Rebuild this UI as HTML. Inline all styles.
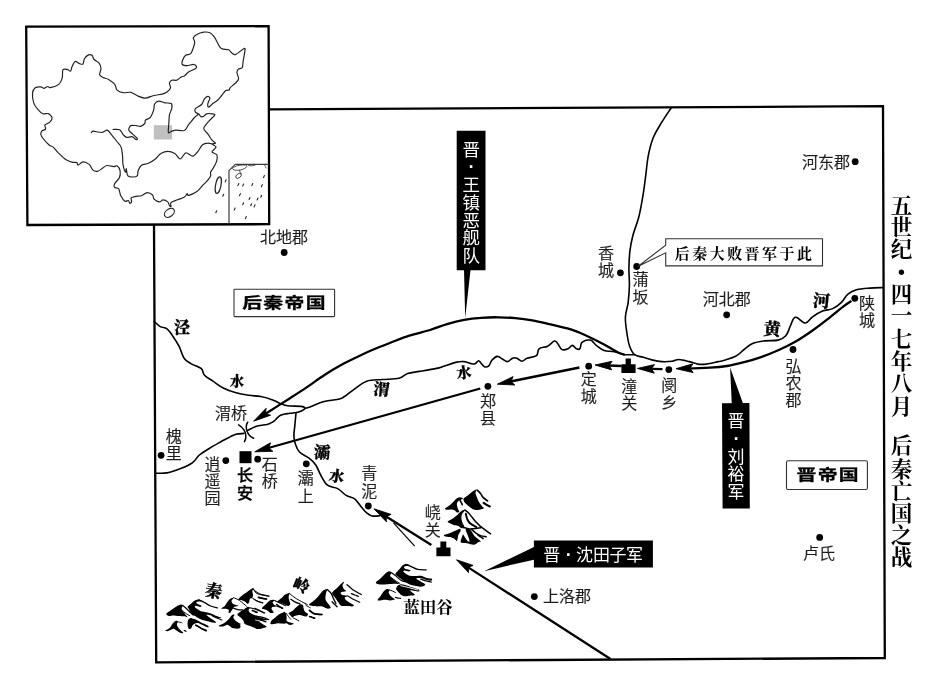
<!DOCTYPE html>
<html lang="zh-CN">
<head>
<meta charset="utf-8">
<title>五世纪·四一七年八月 后秦亡国之战</title>
<style>
html,body{margin:0;padding:0;background:#fff;}
body{width:939px;height:687px;overflow:hidden;}
svg{display:block;will-change:transform;}
.lb{font-family:"Liberation Sans","Noto Sans CJK SC",sans-serif;font-weight:350;fill:#1e1e1e;stroke:#1e1e1e;stroke-width:0.22px;text-anchor:middle;}
.lbb{font-family:"Liberation Sans","Noto Sans CJK SC",sans-serif;font-weight:500;fill:#000;stroke:#000;stroke-width:0.3px;text-anchor:middle;}
.rv{font-family:"Liberation Serif","Noto Serif CJK SC",serif;font-weight:900;fill:#000;stroke:#000;stroke-width:0.3px;text-anchor:middle;}
.tt{font-family:"Liberation Serif","Noto Serif CJK SC",serif;font-weight:700;fill:#000;text-anchor:middle;}
.wl{font-family:"Liberation Sans","Noto Sans CJK SC",sans-serif;font-weight:400;fill:#fff;text-anchor:middle;}
.emp{font-family:"Liberation Sans","Noto Sans CJK SC",sans-serif;font-weight:700;fill:#000;stroke:#000;stroke-width:0.3px;text-anchor:middle;}
.co{font-family:"Liberation Serif","Noto Serif CJK SC",serif;font-weight:700;fill:#000;text-anchor:middle;}
</style>
</head>
<body>
<svg width="939" height="687" viewBox="0 0 939 687">
<defs><filter id="soft" x="0" y="0" width="939" height="687" filterUnits="userSpaceOnUse"><feGaussianBlur stdDeviation="0.45"/></filter></defs>
<rect x="0" y="0" width="939" height="687" fill="#fff"/>
<g filter="url(#soft)">
<g id="frames" fill="none" stroke="#000" stroke-width="2.3" stroke-linejoin="miter">
<path d="M269 109.3L883 106.2L884.8 658L156.2 662.3L154 224"/>
<path d="M26.2 26.6L268.6 26.2L269.2 224.2L27.4 225Z"/>
</g>
<g id="china" fill="none" stroke="#242424" stroke-width="1.2" stroke-linejoin="round" stroke-linecap="round">
<rect x="153.8" y="125.2" width="18.3" height="14.3" fill="#c0c0c0" stroke="none"/>
<path d="M33.8 103.1C33 100.8 32.3 95.5 32.5 93.4C32.7 91.3 34 88.7 35.2 87.8C36.4 86.9 39.5 86.8 40.8 86.9C42.1 87 43.2 88.4 44.2 88.3C45.2 88.2 46.8 86.6 47.7 86.5C48.6 86.4 48.9 87.9 50.5 87.6C52.1 87.3 57.2 85.7 58.8 84.4C60.4 83.1 61.6 80.1 62.2 78.1C62.8 76.1 62.2 71 62.9 69.8C63.6 68.6 66 69.2 67.1 69.4C68.2 69.6 69.8 71.5 70.5 71.2C71.2 70.9 71.3 68.5 71.9 67.1C72.5 65.7 74 62 75.1 61.5C76.2 61 78.4 63.2 79.5 63.6C80.6 64 82.3 64.7 83 64C83.7 63.3 83.6 60.1 84.4 58.8C85.2 57.5 87.4 55.4 88.5 54.9C89.6 54.4 91.2 54.7 92 55.3C92.8 55.9 93.1 58.4 94.1 59.5C95.1 60.6 97.9 61.6 98.9 62.9C99.9 64.2 100.9 66.8 101 68.5C101.1 70.2 99.3 73.4 99.6 74.7C99.9 76 101.8 76.8 103.1 77.5C104.4 78.2 107 78.5 108.6 79.5C110.2 80.5 113.6 82.9 114.8 84.4C116 85.9 115.7 88.7 116.9 89.9C118.1 91.1 121.2 92.4 123.1 92.7C125 93 128.8 91.9 130.8 92.3C132.8 92.7 135.7 95.1 137.7 95.9C139.7 96.7 143 98.3 145.3 98.2C147.6 98.1 151.4 96.1 153.8 95.5C156.2 94.9 160.4 94.6 162.2 94.1C164 93.6 165.8 92.9 167 92C168.2 91.1 170.2 89.1 170.5 87.8C170.8 86.5 169.2 84.1 169.4 83C169.6 81.9 170.8 80.6 171.8 80.2C172.8 79.8 175.3 80.7 176.7 80.2C178.1 79.7 180.4 77.4 181.5 76.8C182.6 76.2 183.3 76.8 184.3 76.1C185.3 75.4 186.9 72.9 188.5 71.9C190.1 70.9 194.3 69.5 195.4 68.7C196.5 67.9 196.8 67 196.5 66.4C196.2 65.8 194.6 64.4 193.3 64.3C192 64.2 188.7 65.7 187.1 65.7C185.5 65.7 182.8 65.2 182.2 64.3C181.6 63.4 182.4 60.8 182.9 59.5C183.4 58.2 184.6 56.1 185.7 55.3C186.8 54.5 189.5 54.7 190.5 53.9C191.5 53.1 192 51.4 192.6 49.8C193.2 48.2 194.6 43.9 194.7 42.2C194.8 40.5 193 39.1 193.3 38C193.6 36.9 195.3 35.3 196.8 34.5C198.3 33.7 201.9 32.5 203.7 32.2C205.5 31.9 208.4 32.1 209.9 32.7C211.4 33.3 213 35.2 214.1 36.6C215.2 38 216.6 41.2 217.5 42.8C218.4 44.4 219.5 46.8 220.3 47.7C221.1 48.6 221.9 48.8 223.1 49.1C224.3 49.4 227.3 49.2 228.6 49.8C229.9 50.4 231.1 52.5 232.1 53.2C233.1 53.9 233.8 55.3 235.5 54.6C237.2 53.9 243.2 48.6 244.5 48.4C245.8 48.2 244.7 51.4 244.5 53.2C244.3 55 243.4 59.5 243.1 61.5C242.8 63.5 242.9 66.7 242.2 67.8C241.5 68.9 239 68.4 238.3 69.1C237.6 69.8 236.9 71.2 236.9 72.6C236.9 74 238.8 77.3 238.6 78.8C238.4 80.3 236.7 81.7 235.5 83C234.3 84.3 230.9 86.8 230 87.8C229.1 88.8 229.9 89.5 229.3 89.9C228.7 90.3 226.9 89.8 225.8 90.6C224.7 91.4 222.9 94.1 221.7 95.5C220.5 96.9 218.7 99.2 217.5 100.3C216.3 101.4 214.7 102.1 213.4 103.1C212.1 104.1 209.3 107.1 208.5 107.2C207.7 107.3 207.6 105.1 207.8 103.8C208 102.5 209.9 99.2 209.9 98.2C209.9 97.2 208.6 96.3 207.8 96.4C207 96.5 205.3 97.8 204.4 98.9C203.5 100 202.9 103.1 201.6 104.5C200.3 105.9 196.3 107.5 195.4 108.6C194.5 109.7 194.9 111.3 195.4 112.1C195.9 112.9 198 113.5 198.8 114.1C199.6 114.7 200.2 116.3 200.9 116.6C201.6 116.9 202.9 116.7 203.7 116.3C204.5 115.9 205.3 114.1 206.5 113.8C207.7 113.5 210.8 113.6 212 113.8C213.2 114 215.2 114 214.8 115C214.4 116 210.8 118.9 209.2 120.8C207.6 122.7 203.9 126.6 203.7 128.4C203.5 130.2 206.6 132.3 207.8 133.9C209 135.5 210.9 138.8 212 140.1C213.1 141.4 215.5 142.7 215.5 143.2C215.5 143.7 211.9 143.5 212 144C212.1 144.5 216.1 146 216.1 147.1C216.1 148.2 211.9 150.8 212 151.9C212.1 153 216.1 153.4 216.8 154.7C217.5 156 217.3 159.1 216.8 160.9C216.3 162.7 214.3 166.2 213.4 167.8C212.5 169.4 211 170.8 210.6 172C210.2 173.2 211.2 174.7 210.6 176.1C210 177.5 207.7 180.3 206.5 181.7C205.3 183.1 203.6 184.4 202.3 185.8C201 187.2 198.8 190.2 196.9 191.5C195 192.8 190 195.1 188.6 195.4C187.2 195.7 187.8 193.4 187.2 193.6C186.6 193.8 185.9 196.2 184.5 197.1C183.1 198 179.4 199 177.5 199.8C175.6 200.6 171.8 201.7 170.9 202.6C170 203.5 171.2 206.1 171 206.5C170.8 206.9 169.8 206.2 169.4 205.6C169 205 168.7 202.7 167.8 201.9C166.9 201.1 164.2 199.8 163 199.8C161.8 199.8 160.8 202 159.5 201.9C158.2 201.8 155 200.1 154 199.1C153 198.1 153.6 195.9 152.6 195C151.6 194.1 148.7 192.5 147.1 192.6C145.5 192.7 143.1 195.2 141.5 195.7C139.9 196.2 137.4 196.1 136 196.4C134.6 196.7 131.8 197 131.2 197.8C130.6 198.6 131.8 201.1 131.6 201.9C131.4 202.7 130.2 203.5 129.8 203.3C129.4 203.1 129.1 200.8 128.4 200.5C127.7 200.2 126 201.9 124.9 201.2C123.8 200.5 121.7 197.4 120.8 195.7C119.9 194 119.6 190 118.7 188.8C117.8 187.6 115.1 188.1 114.5 187.4C113.9 186.7 113.8 185.3 114.5 183.9C115.2 182.5 118.6 179.5 119.4 177.7C120.2 175.9 120.4 172.5 120.1 170.8C119.8 169.1 118.2 166.5 117.3 165.9C116.4 165.3 115.3 166.7 113.8 166.6C112.3 166.5 108.4 165.3 106.9 165.5C105.4 165.7 104.4 167 103.1 167.8C101.8 168.6 99 171 97.5 171.3C96 171.6 93.9 170.9 92.7 169.9C91.5 168.9 90.6 165.5 89.2 164.4C87.8 163.3 84.6 161.8 83 161.9C81.4 162 79 165 78.1 165.1C77.2 165.2 77.6 163 76.8 162.6C76 162.2 74.2 162.7 72.6 162.3C71 161.9 67.7 160.9 65.7 159.5C63.7 158.1 59.9 154.3 58.1 152.6C56.4 150.9 54.5 148.2 53.2 147.1C51.9 146 50.7 146.5 49.1 145C47.5 143.5 42.6 138.2 41.5 136.3C40.4 134.4 40.9 132.2 41.5 131.2C42.1 130.2 45.1 130 45.6 129.1C46.1 128.2 44.3 125.9 44.9 124.9C45.5 123.9 48.8 123.2 49.8 122.2C50.8 121.2 52.3 118.9 52.1 117.7C51.9 116.5 49.7 114.1 48.4 113.6C47.1 113.1 44.3 114.3 42.8 113.8C41.3 113.3 39.3 111.2 38 109.7C36.7 108.2 34.6 105.4 33.8 103.1Z"/>
<path d="M113 129.5C114 129.5 118.2 129 119.7 129.8C121.2 130.6 122.1 133.5 123.1 134.6C124.1 135.7 125.2 137.1 126.6 137.4C127.9 137.7 130.6 136.4 132.1 136.7C133.6 137 135.6 139.5 136.3 139.7C137 139.9 137.8 139.2 137 138.1C136.2 137 132 133.7 130.8 132.5C129.6 131.3 128.7 130.8 128.7 129.8C128.7 128.8 129.7 126.2 130.8 125.6C131.9 125 134.9 125.5 136.3 125.6C137.7 125.7 139.1 126.6 140.4 126.3C141.7 126 144 124.4 144.8 123.5C145.6 122.6 144.7 121 145.5 120.1C146.3 119.2 149.2 118.9 150.4 117.3C151.6 115.7 153.2 111.7 153.8 109.7C154.4 107.7 153.8 105.5 154.5 104.2C155.2 102.9 157.1 101.3 158.7 101.1C160.3 100.9 163 102.4 164.9 102.8C166.8 103.2 170.2 102.7 171.2 103.5C172.2 104.3 172.1 106.5 171.8 108.3C171.5 110.1 169.8 112.9 169.4 115.2C169 117.5 169 120.9 168.8 123.5C168.7 126.1 168 131.3 168.4 132.5C168.8 133.7 170.7 131.5 171.8 131.2C172.9 130.9 174.1 130.3 176 130.2C177.9 130.1 182.4 131.3 184.3 130.5C186.2 129.7 187 126.8 188.5 124.9C190 123 192.6 119.6 194 118C195.4 116.4 197.5 115 198.1 114.5"/>
<path d="M91.3 132.5C91.6 132.3 91.8 131.2 93.4 131.2C95 131.2 99.6 132.7 101.7 132.5C103.8 132.3 105.7 129.9 107.2 130.2C108.7 130.5 109.9 132.9 111.4 134.6C112.9 136.3 115.4 139.6 116.9 141.5C118.4 143.4 120.3 145 121.1 147.1C121.9 149.2 122.2 152.7 122.5 155.4C122.8 158.1 122.6 162.6 123.1 165.1C123.6 167.6 125.1 171.7 125.6 172.2C126.1 172.7 126 168.2 126.3 168.7C126.6 169.2 126.7 174.4 127.7 175.6C128.7 176.8 131.7 177 133.2 177C134.7 177 136.7 176.5 137.4 175.6C138.1 174.7 137.5 172.4 138.1 170.8C138.7 169.2 139.9 166.3 141.5 165.2C143.1 164.1 146.4 164.1 148.5 163.2C150.6 162.3 153.5 160.5 155.4 159C157.3 157.5 159 154.6 160.9 153.5C162.8 152.4 165.7 151.4 167.8 151.4C169.9 151.4 172.9 152.4 174.8 153.5C176.7 154.6 178.7 159.1 180.3 159C182 158.9 183.9 153.2 185.8 152.8C187.7 152.4 191 156.4 192.8 156.2C194.6 156 196.7 152.9 198.1 151.2C199.5 149.5 200.8 146.2 202.3 145C203.8 143.8 206.3 143.3 207.8 143.2C209.3 143 211.4 143.9 212 144"/>
<ellipse cx="169.4" cy="212.8" rx="5.6" ry="3.7" transform="rotate(-38 169.4 212.8)"/>
<ellipse cx="218.3" cy="185.2" rx="2.7" ry="8.4" transform="rotate(11 218.3 185.2)"/>
<path d="M229 224L229 170.6L235.2 164.3L268.5 164.3" stroke="#3a3a3a" stroke-width="1.2"/>
<path d="M232.5 168.5C235 165.5 240 164.8 246 165C248 166 246.5 168 243 169.2C239.5 170.5 236 170.8 233.2 169.6M239.7 170.4L240.3 173" stroke-width="0.8"/>
<path d="M248.5 165.3C251 166.4 253.5 165.8 255.8 164.6M264.3 164.8C265.3 166 265.6 167 266 168" stroke-width="0.8"/>
<ellipse cx="238.6" cy="175.8" rx="3.2" ry="2" transform="rotate(-38 238.6 175.8)" stroke-width="0.8"/>
</g>
<g id="isles" stroke="#222" stroke-width="1.1" stroke-linecap="round">
<path d="M263.5 177.6l0.9 -2.1"/>
<path d="M237.9 185.6l0.9 -2.1"/>
<path d="M242.7 186.1l0.9 -2.1"/>
<path d="M251.8 185.6l0.9 -2.1"/>
<path d="M261.4 186.7l0.9 -2.1"/>
<path d="M239.5 195.7l0.9 -2.1"/>
<path d="M249.1 199.5l0.9 -2.1"/>
<path d="M260.8 197.3l0.9 -2.1"/>
<path d="M257.1 200l0.9 -2.1"/>
<path d="M242.7 204.8l0.9 -2.1"/>
<path d="M250.7 205.8l0.9 -2.1"/>
<path d="M254.1 206.9l0.9 -2.1"/>
<path d="M234.2 210.1l0.9 -2.1"/>
<path d="M245.4 218.6l0.9 -2.1"/>
<path d="M225.2 181.9l0.9 -2.1"/>
<path d="M222.8 196.3l0.9 -2.1"/>
<path d="M215.8 212.8l0.9 -2.1"/>
</g>
<g id="rivers" fill="none" stroke="#000" stroke-width="1.6" stroke-linejoin="round" stroke-linecap="round">
<path d="M154.3 321.5C155.4 322.4 157.9 325.3 160.2 326.6C162.5 327.9 164.8 327.2 167 328.8C169.2 330.4 170 332 172.2 335.2C174.4 338.4 176.8 342 179 346.2C181.2 350.4 181.9 355 184.1 358.2C186.3 361.4 187.8 361.7 190.9 363.6C194 365.5 198.6 366.3 201.1 368.4C203.6 370.5 202.3 372.9 204.5 375.2C206.7 377.5 209.6 378.9 213 381.2C216.4 383.5 219.2 385.9 223.3 388C227.4 390.1 230.5 391.3 235.2 392.6C239.9 393.9 244.1 394.6 248.8 395.3C253.5 396 256.4 395.7 260.8 396.5C265.2 397.3 269 398.5 272.7 399.9C276.4 401.3 279.6 403.4 281.2 404.2"/>
<path d="M155.5 473.2C157.6 473.1 162.4 473.7 167 472.9C171.6 472.1 176 470.5 180.7 468.6C185.4 466.7 189.2 465.1 192.6 462.6C196 460.1 196.3 457.6 199.4 455C202.5 452.4 205.5 450.7 209.6 448.2C213.7 445.7 217.9 443.4 221.6 441.3C225.3 439.2 227.4 438.2 230 436.9C232.6 435.6 233.5 434.9 236 434.3C238.5 433.7 242.5 433.6 243.9 433.4"/>
<path d="M247.4 430.6C248.2 430.2 250 429.1 252 428.2C254 427.3 255.6 426.5 258.3 425.8C261 425.1 264.6 425 266.9 424.5C269.2 424 269.6 423.6 271 422.9C272.4 422.2 273.4 421.6 274.6 420.6C275.8 419.6 276.4 418.6 277.5 417.6C278.6 416.6 279.2 416 280.6 415.3C282 414.6 283.3 414.4 285 414C286.7 413.6 287.6 413.7 290.1 413.3C292.6 412.9 296.2 412.7 298.7 412C301.2 411.3 302.7 410.4 303.8 409.6C304.9 408.8 305.4 408.4 304.9 407.8C304.4 407.2 303.9 406.7 301.2 406.4C298.5 406.1 293.1 406.2 290.1 406C287.1 405.8 286.5 405.6 284.9 405.2C283.3 404.8 281.9 403.9 281.2 403.6"/>
<path d="M304.6 408.4C305.6 408.1 306.4 408.1 310 406.9C313.6 405.7 318.7 403 324.1 401.6C329.5 400.2 335.7 399.9 339.4 399C343.1 398.1 341.7 398.4 344.5 396.5C347.3 394.6 350.6 391.6 354.7 388.8C358.8 386 361.7 382.9 366.7 381.2C371.7 379.5 376.1 380 382 379.5C387.9 379 394.3 379.4 399 378.3C403.7 377.2 403.8 374.8 407.6 373.5C411.4 372.2 414.2 372.3 419.5 371.4C424.8 370.5 432.1 369.3 436.5 368.4C440.9 367.5 440.1 367.4 443.6 366.3C447.1 365.2 451.8 363.3 455.6 362.4C459.4 361.5 461.3 361.4 464.1 361.6C466.9 361.8 468.9 363.2 470.9 363.6C472.9 364 473.6 364.3 475 363.8C476.4 363.3 477.5 360.8 478.6 360.7C479.7 360.6 480 362.2 481.1 363.3C482.2 364.4 483.1 366.2 484.5 366.7C485.9 367.2 487.4 367 488.8 365.8C490.2 364.6 490.6 361.6 492.2 359.9C493.8 358.2 495.4 356.6 497.3 356.4C499.2 356.2 500.5 358 502.4 359C504.3 360 505.6 361.7 507.5 361.6C509.4 361.5 510.9 358.8 512.6 358.2C514.3 357.6 515.2 357.6 516.9 358.2C518.6 358.8 520.1 361.2 522 361.2C523.9 361.2 524.4 359.2 527.1 358.2C529.8 357.2 534.3 357.3 536.5 355.6C538.7 353.9 537 350.5 539 348.8C541 347.1 544.8 347.6 547.6 346.2C550.4 344.8 552.5 341.6 554.4 341.1C556.3 340.6 556.4 342.1 557.8 343.7C559.2 345.3 560.1 348.7 562 349.6C563.9 350.5 566.1 349.6 568 348.8C569.9 348 570.7 345.4 572.3 345.4C573.9 345.4 575.1 348.2 576.5 348.8C577.9 349.4 579 349.9 579.9 348.8C580.8 347.7 580.5 344.4 581.6 342.8C582.7 341.2 584.4 340.8 585.9 340.3C587.4 339.8 588.8 339.9 590 340C591.2 340.1 590.9 340 592.2 341.1C593.5 342.2 595.1 344.5 597.3 346.2C599.5 347.9 601 349.5 604.1 350.5C607.2 351.5 610.6 350.9 614.3 351.7C618 352.5 622.6 354.1 624.5 354.7"/>
<path d="M296 413C295.8 415.3 295.2 421.6 294.8 425.8C294.4 430 293.8 432.8 293.9 436C294 439.2 294.2 440.6 295.2 443.5C296.2 446.4 297 449.4 299.5 452C302 454.6 305.7 455.6 308.7 457.9C311.7 460.2 313.4 461.6 315.6 464.7C317.8 467.8 318.5 471.2 320.7 475C322.9 478.8 324.4 482.7 327.5 485.2C330.6 487.7 334.3 486.7 337.7 488.6C341.1 490.5 343.1 493.5 346.2 495.4C349.3 497.3 351.9 496.6 354.7 498.8C357.5 501 359.3 504.7 361.6 507.3C363.9 509.9 365.1 511.6 367 513.2C368.9 514.8 369.8 515.5 372.1 516C374.4 516.5 378.4 515.8 379.8 515.7"/>
<path d="M671.2 107.7C669.5 110.4 665.1 116.7 661.8 122.2C658.5 127.7 655.8 131.3 653.3 137.5C650.8 143.7 649.6 149 648.2 156.2C646.8 163.4 646.6 169.5 645.6 176.7C644.6 183.9 644.2 188 643 195.4C641.8 202.8 640.7 209.6 638.8 217C636.9 224.4 634.4 229.5 632.8 235.8C631.2 242.1 630.6 245.2 629.9 251.1C629.2 257 629 261.9 628.9 268.2C628.8 274.5 629.5 279 629.4 285.2C629.3 291.4 628.9 296.3 628.2 302.2C627.5 308.1 625.6 311.4 625.4 317.3C625.2 323.2 626.3 329 627.1 334.3C627.9 339.6 628.2 342.5 629.6 346.2C631 349.9 632.2 352.7 634.7 354.7C637.2 356.7 640.2 356.3 643.3 357.3C646.4 358.3 648.4 359.1 651.8 359.9C655.2 360.7 658.3 361.4 662 361.6C665.7 361.8 669.1 361.6 672.2 361.2C675.3 360.8 675.9 359.4 679 359.5C682.1 359.6 685.9 360.8 689.3 361.6C692.7 362.4 694.7 363.6 697.8 364.1C700.9 364.6 702.6 364.6 706.3 364.1C710 363.6 715 362.3 718.2 361.6C721.4 360.9 720.4 361.5 723.6 360.5C726.8 359.5 731.8 358.3 735.6 356.3C739.4 354.3 741 351.8 744.1 349.5C747.2 347.2 748.9 345.1 752.6 343.5C756.3 341.9 759.8 341.5 764.5 340.9C769.2 340.3 774.3 341 778.2 340.1C782.1 339.2 783.6 338.3 785.8 335.8C788 333.3 788.7 329.6 790.1 326.5C791.5 323.4 792.3 320.4 793.5 318.8C794.7 317.2 794.7 316.8 796.9 317.6C799.1 318.4 802.6 323.1 805.4 323C808.2 322.9 809.1 319.3 812.2 317.1C815.3 314.9 818.7 312.7 822.5 311.1C826.3 309.5 829.3 310.2 832.7 308.6C836.1 307 838.4 305.3 841.2 302.6C844 299.9 845.2 296.4 848 294.1C850.8 291.8 852.5 290.9 856.5 289.8C860.5 288.7 865 288.5 870 288.1C875 287.7 881 287.7 883.5 287.6"/>
<path d="M624.5 354.7L634.7 354.7"/>
<path d="M238.6 424.9C242.6 427.4 245.2 430.5 245.8 435C246.1 437.6 245.6 439.8 244.5 441.7M247.7 422.2C246 424.6 245.8 427.4 247 431C248.2 434.6 250.3 437 253.7 438.3" stroke-width="1.5"/>
</g>
<g id="routes" fill="none" stroke="#000" stroke-width="2.3" stroke-linecap="butt">
<path d="M624.5 354.7C623.4 354.3 621.1 353.9 617.7 352.2C614.3 350.5 609.2 347.2 604.1 344.5C599 341.8 592.7 338.6 587 336C581.3 333.4 576.3 331.2 570 329.2C563.7 327.2 555.6 325.6 549.3 324.1C543 322.6 537.9 321.3 532.2 320.3C526.5 319.3 520.9 318.6 515.2 318.1C509.5 317.6 503.9 317.4 498.2 317.3C492.5 317.2 486.8 317.4 481.1 317.8C475.4 318.2 469.8 318.8 464.1 319.8C458.4 320.9 452.7 322.4 447 324.1C441.3 325.8 436.3 328.1 430 330C423.7 331.9 415.6 333.7 409.3 335.7C403 337.7 397.9 339.8 392.2 342C386.5 344.2 380.9 346.4 375.2 348.8C369.5 351.2 363.9 353.8 358.2 356.5C352.5 359.2 346.8 361.9 341.1 365C335.4 368.1 329.8 371.5 324.1 375.2C318.4 378.9 312.7 383.3 307 387.1C301.3 390.9 296.8 393.8 290 398.2C283.2 402.6 270 410.9 266 413.5"/>
<path d="M851.4 300.9C850 301.9 846.6 304.1 842.9 306.9C839.2 309.7 834.4 313.9 829.3 317.9C824.2 321.9 817.9 326.7 812.2 330.7C806.5 334.7 800.9 338.5 795.2 341.8C789.5 345.1 783.9 347.8 778.2 350.3C772.5 352.9 766.8 355.1 761.1 357.1C755.4 359.1 749.8 360.7 744.1 362.2C738.4 363.7 732.7 365.1 727 366C721.3 366.9 716.8 367.3 710 367.7C703.2 368.1 690 368.5 686 368.6"/>
<path d="M662.5 369.1L650.9 368.8"/>
<path d="M621.6 366L608.5 365.5"/>
<path d="M579.4 367.5L510.5 381.5"/>
<path d="M480.3 388.5L268.3 448"/>
<path d="M431.4 545L385.7 516.3"/>
<path d="M610.5 659L467.8 567.1"/>
<path d="M414.7 546.2L393.5 522.8" stroke-width="1.2"/>
</g>
<g id="heads" fill="#000" stroke="#000" stroke-width="0.9" stroke-linejoin="round">
<path d="M253.6 421.2L266.1 408.3L265.4 413.7L270.6 415.2Z"/>
<path d="M676 368.7L692.9 363.8L690 368.3L693.1 372.6Z"/>
<path d="M637.4 368.4L654.5 364.6L651.4 368.8L654.3 373.2Z"/>
<path d="M595 365L612.1 361.3L609 365.5L611.8 369.9Z"/>
<path d="M497.3 384.2L513.1 376.6L511 381.4L514.8 385Z"/>
<path d="M254.8 451.8L270.5 442.8L268.8 447.9L272.8 451.3Z"/>
<path d="M373.9 508.8L391.1 514.4L386.2 516.5L386.4 521.8Z"/>
<path d="M456.5 559.8L473.1 565.4L468.3 567.4L468.5 572.6Z"/>
</g>
<g id="towns" fill="#000">
<circle cx="284.2" cy="252.5" r="3.4"/>
<circle cx="161.1" cy="455.3" r="3.4"/>
<circle cx="225.8" cy="460.6" r="3.4"/>
<circle cx="257.7" cy="459.2" r="3.4"/>
<circle cx="306.3" cy="463.8" r="3.4"/>
<circle cx="368.3" cy="506" r="3.4"/>
<circle cx="487.9" cy="386.3" r="3.4"/>
<circle cx="588.7" cy="366.2" r="3.4"/>
<circle cx="668.8" cy="369.6" r="3.4"/>
<circle cx="620.4" cy="272.8" r="3.4"/>
<circle cx="636.7" cy="266.5" r="3.4"/>
<circle cx="726.7" cy="314.8" r="3.4"/>
<circle cx="855.2" cy="161.7" r="3.4"/>
<circle cx="854.8" cy="298.3" r="3.4"/>
<circle cx="793" cy="349.5" r="3.4"/>
<circle cx="819.7" cy="537.4" r="3.4"/>
<circle cx="534.3" cy="596.6" r="3.4"/>
<rect x="239.5" y="451.2" width="12" height="12"/>
<path d="M621.4 364.2H625.6V358.4H630.9V364.2H635.6V373H621.4Z"/>
<path d="M436.4 547.6H440.4V541.6H446.3V547.6H450.5V556.2H436.4Z"/>
</g>
<g id="tags" fill="#000">
<path d="M456.7 130.8H485.5V270.2H456.7Z"/>
<path d="M464 269L470.6 269L465.2 318Z"/>
<path d="M722 403.2L749.4 403L749.8 508.4L722.6 508.6Z"/>
<path d="M731.8 404L743.2 404L730.1 367.6Z"/>
<path d="M533.9 540.6H652.9V567.6H533.9Z"/>
<path d="M535 546.4L535 559.4L484.1 571.2Z"/>
</g>
<g id="boxes" fill="#fff" stroke="#333" stroke-width="1.1">
<rect x="234" y="289.2" width="100.6" height="27.4" rx="0.8"/>
<rect x="786.5" y="460.8" width="80.9" height="28.7" rx="1.5"/>
<path d="M665.7 238.8H822.5V265.9H665.7V252.8L637.9 266.5L665.7 245.2Z"/>
</g>
<g id="mountains" fill="#000" stroke="none">
<path d="M166.3 613.9C166.6 613.1 169.8 611.1 171.2 610.1C172.5 609.1 175.1 607.2 176.4 606.4C177.7 605.7 180 604.6 180.9 604.5C181.7 604.5 182.6 605.2 182.7 605.8C182.8 606.4 181.4 608 181.6 609C181.9 610 183.8 612.4 184.6 613.5C185.4 614.6 187.7 617.1 187.7 617.4C187.7 617.8 185.8 616.4 184.6 616.2C183.4 616.1 180.1 616.2 178.6 616.1C177.2 616 174.7 615.4 173.4 615.4C172.1 615.3 169.9 616.1 168.9 615.9C168 615.7 166 614.6 166.3 613.9Z"/>
<path d="M187.6 606.8C188.1 606.1 191 603.6 192.1 602.7C193.2 601.8 194.9 600.5 195.8 600.1C196.7 599.6 198 599.4 198.8 599.5C199.6 599.7 202.1 600.9 201.8 601.2C201.5 601.5 197.1 601.4 196.5 601.8C195.9 602.1 196.6 603.3 197.3 603.8C197.9 604.3 201 605.3 201.4 605.7C201.8 606.1 201 606.8 200.3 606.9C199.5 606.9 196.5 605.7 195.8 605.8C195.1 605.9 194.5 606.6 195 607.3C195.6 608 198.6 610.2 200.3 610.9C202 611.6 206.1 612 207.7 612.4C209.3 612.8 211 613.4 212.2 613.9C213.4 614.4 215.5 615.6 216.7 616.1C217.9 616.6 221.2 617.5 221.3 617.7C221.4 618 218.6 618.1 217.4 617.9C216.2 617.6 213.4 616.3 212.2 615.9C211 615.5 209.2 614.9 208.5 614.8C207.7 614.7 206.1 614.7 206.4 615.1C206.7 615.6 209.4 617.4 210.7 618.3C212 619.3 215.9 621.6 216.1 622.2C216.3 622.8 213.3 622.7 212.2 622.6C211.1 622.5 209.1 621.7 207.7 621.3C206.3 621 203.2 620.3 201.8 619.8C200.4 619.3 198.5 618.3 197.3 617.6C196.1 616.9 193.8 615.5 192.8 614.6C191.8 613.7 190.4 611.8 189.8 610.9C189.2 610 188.6 608.4 188.3 607.9C188 607.4 187.1 607.5 187.6 606.8Z"/>
<path d="M165.2 630.6C165.5 630.2 168.7 629 169.7 628C170.7 627.1 171.9 624.5 172.7 623.6C173.5 622.6 175.1 621 175.8 620.8C176.5 620.5 177.9 621.3 178 621.7C178.2 622.1 176.9 623.2 176.9 623.9C176.8 624.7 177.4 626.4 177.9 627.3C178.4 628.2 180.2 629.9 180.9 630.6C181.6 631.4 183.3 632.6 183.3 633C183.3 633.3 181.7 633.4 180.9 633.1C180.1 632.8 178 631.6 177.2 631C176.3 630.5 175 629.1 174.2 628.9C173.4 628.7 172.1 629.4 171.2 629.7C170.3 630 168.3 631 167.5 631.2C166.7 631.3 164.9 631.1 165.2 630.6Z"/>
<path d="M188 627.3C187.7 626.4 187.5 623.8 187.6 622.8C187.6 621.8 187.9 620.5 188.3 619.8C188.7 619.2 189.9 618.1 190.6 618C191.3 617.9 192.7 618.6 193.6 619.1C194.5 619.5 196.4 620.8 197.3 621.3C198.2 621.8 200.5 622.5 200.3 622.8C200.1 623.1 196.8 623 195.8 623.3C194.8 623.6 193.4 624.4 192.8 625C192.2 625.7 191.8 627.5 191.3 628C190.9 628.6 189.9 629.2 189.5 629.1C189 629.1 188.2 628.1 188 627.3Z"/>
<path d="M221 608.7C221 608.4 223.8 607 224.7 606.1C225.6 605.2 226.9 602.6 227.7 601.6C228.5 600.6 229.8 599.2 230.7 598.6C231.5 598.1 233.7 597.5 233.8 597.7C233.9 598 231.8 599.9 231.6 600.5C231.3 601.1 231.5 601.8 231.9 602.4C232.2 602.9 233.5 604.2 234.4 604.6C235.2 605.1 238.3 605.4 238.3 605.7C238.3 606 235.2 606.3 234.4 606.8C233.6 607.4 232.7 609 232.2 609.8C231.6 610.6 230.4 612.6 229.9 613C229.4 613.3 228.6 612.9 228.4 612.5C228.3 612.1 229.3 610.3 228.8 609.8C228.3 609.3 225.7 608.9 224.7 608.8C223.7 608.6 221 609.1 221 608.7Z"/>
<path d="M238.1 599.4C238.3 598.7 241.4 595.9 242.6 594.9C243.8 593.9 246 592.7 247.1 591.9C248.2 591.2 250 589.8 250.8 589.3C251.6 588.9 253 588.2 253.2 588.4C253.4 588.7 252.3 590.3 252.3 591.2C252.3 592.1 253 594 253 594.9C253 595.8 252.7 597.4 252.3 597.9C251.9 598.4 250.4 598.1 250 598.6C249.7 599.1 249.6 600.9 249.3 601.6C249 602.3 248.4 604 247.8 604C247.2 604 245.7 602.1 244.8 601.6C243.9 601.1 242 600.4 241.1 600.1C240.2 599.8 237.9 600.1 238.1 599.4Z"/>
<path d="M218.7 625.9C218.8 625.4 222.7 624.1 223.9 623.3C225.2 622.4 227.3 620.6 228.4 619.5C229.5 618.4 231.3 615.7 232.2 615C233 614.4 234.4 614.4 234.5 614.7C234.7 615 233.3 616.5 233.3 617.3C233.4 618 234.4 619.5 235.1 620.3C235.9 621.1 238.1 622.5 238.9 623.3C239.6 624 240.4 625.6 240.5 626.2C240.6 626.9 240.2 627.9 239.6 628.2C239 628.5 237 628.7 235.9 628.6C234.8 628.5 232.5 627.9 231.4 627.4C230.3 626.9 228.8 624.9 227.7 624.7C226.6 624.6 224.4 626.2 223.2 626.4C222 626.5 218.6 626.3 218.7 625.9Z"/>
<path d="M237.4 614.3C237.8 613.3 241.9 610.8 243.3 609.8C244.7 608.8 246.9 607.1 247.8 606.8C248.7 606.6 250.1 607.6 250.2 608C250.3 608.4 248.6 609.2 248.6 609.8C248.5 610.5 249.3 612.1 250 612.8C250.8 613.5 253.2 614.6 254.5 615C255.8 615.5 259.6 616.1 259.9 616.5C260.2 616.9 257.4 617.5 256.8 618C256.1 618.5 255.2 619.6 255.3 620.3C255.4 620.9 256.5 622.2 257.5 622.9C258.5 623.5 261.5 624.6 262.7 625.1C263.9 625.6 266.6 626.2 266.6 626.6C266.6 627 263.8 627.9 262.7 628.2C261.6 628.5 259.8 629.3 258.3 629C256.7 628.7 252.6 626.9 250.8 626.2C249 625.6 245.8 624.7 244.8 624C243.8 623.3 243.9 621.5 243.3 620.6C242.7 619.7 241.1 618.1 240.4 617.3C239.6 616.4 237 615.3 237.4 614.3Z"/>
<path d="M262 608.3C262.4 607.5 265.9 604.2 267.2 603.1C268.5 602 270.7 600.5 271.7 600.1C272.7 599.8 274.7 600.1 274.8 600.4C274.9 600.7 272.5 601.7 272.4 602.4C272.3 603 274.1 604.6 273.9 605.4C273.7 606.1 271 607.4 270.9 608.3C270.8 609.3 273.4 611.6 273.3 612.2C273.2 612.8 271 613.3 270.2 613C269.4 612.6 268 610.3 267.2 609.8C266.4 609.3 264.9 609.4 264.2 609.2C263.5 609 261.6 609.2 262 608.3Z"/>
<path d="M270.9 624C270.3 623.7 270.9 621.9 271.7 621C272.5 620.1 275.7 618.2 276.9 617.3C278.1 616.4 279.5 614.9 280.6 614.3C281.8 613.7 284.7 612.3 285.5 612.7C286.3 613.1 286.5 616 286.6 617.3C286.6 618.6 286.6 621.8 285.8 622.7C285 623.5 281.9 623.4 280.6 623.4C279.3 623.5 277.4 622.9 276.1 623C274.9 623.1 271.5 624.3 270.9 624Z"/>
<path d="M255 616.2C255.6 614.8 258 616.6 259.5 617C261 617.5 265 618.9 266.2 619.3C267.4 619.7 269.1 619.9 268.6 620.1C268.1 620.3 263.7 620.3 262.5 620.5C261.2 620.7 259 620.8 259.5 621.7C260 622.5 265.9 625.9 266.3 626.7C266.7 627.5 263.6 627.3 262.5 627.6C261.3 628 259 629.2 258 629.1C257 629.1 255.4 628.8 255 627.1C254.6 625.4 254.4 617.5 255 616.2Z"/>
<path d="M262.1 608.1C262.1 607.4 265.1 605.4 266.2 604.4C267.2 603.4 268.9 601.3 269.9 600.6C270.9 600 273.5 599.5 273.8 599.7C274.1 599.9 272.2 601.5 272.2 602.1C272.1 602.8 273 603.9 273.6 604.4C274.3 604.9 276.7 605.6 276.8 605.9C276.9 606.2 275.1 606.5 274.4 606.7C273.7 606.9 271.7 606.9 271.4 607.4C271.1 607.9 271.8 609.6 272.2 610.3C272.5 611 274.1 612.5 273.8 612.7C273.5 612.9 270.9 612.4 269.9 612C268.9 611.6 267.2 610.3 266.2 609.7C265.1 609.2 262.1 608.8 262.1 608.1Z"/>
<path d="M277.4 601.4C277.5 600.7 280.9 598.6 281.8 597.7C282.8 596.8 283.8 595.3 284.8 594.7C285.8 594.1 289 592.7 289.5 593C289.9 593.3 288.6 595.9 288.6 596.9C288.5 597.9 289.1 599.6 289.3 600.6C289.5 601.6 290.4 603.7 290.2 604.4C290 605.1 288.5 606 287.8 606C287.1 606 285.7 604.9 284.8 604.5C283.9 604.1 282.1 603.4 281.1 603C280.1 602.6 277.3 602.1 277.4 601.4Z"/>
<path d="M288.6 613.3C288.9 612.8 291.3 611.9 292.3 611.1C293.3 610.3 295 608.2 296 607.4C297 606.5 298.8 604.7 299.7 604.4C300.7 604.1 302.4 604.6 302.9 605.1C303.4 605.6 303.2 607.2 303.5 608.1C303.7 609 304.3 611 305 611.8C305.6 612.6 307.9 613.4 308.1 614.1C308.3 614.7 307.2 616.2 306.5 616.5C305.7 616.7 303.6 615.9 302.7 615.7C301.8 615.5 300.7 615 299.7 615C298.7 615 296.3 615.4 295.3 615.7C294.3 616 293 617.3 292.3 617.2C291.6 617.1 290.5 615.5 290 615C289.6 614.4 288.3 613.8 288.6 613.3Z"/>
<path d="M270.7 624.1C270.4 623.7 270.8 621.6 271.4 620.8C272 619.9 274 618.7 275.1 617.8C276.2 616.9 278.3 614.9 279.6 614.1C280.9 613.3 284.4 611.6 285 611.7C285.6 611.8 284.1 614 284.1 614.8C284.1 615.6 284.5 617 284.8 617.8C285.1 618.6 285.6 620.1 286.3 620.8C287 621.4 289 622.2 290 622.6C291.1 623 293.9 623.4 293.9 623.8C293.9 624.1 291.1 625.1 290 625C289 624.9 287.2 623.4 286.3 623.2C285.4 623 284 623.7 283.3 623.5C282.6 623.3 281.9 621.7 281.1 621.7C280.3 621.6 278.4 622.9 277.4 623.2C276.4 623.5 274.5 623.8 273.6 623.9C272.7 624 271 624.6 270.7 624.1Z"/>
<path d="M308.9 604.8C309 604.1 312.1 602.3 313.4 601.1C314.7 599.9 317.4 597.3 318.6 595.9C319.9 594.5 322 591.5 323.1 590.6C324.2 589.8 326.6 589.1 327 589.4C327.4 589.7 326.3 591.8 326.1 592.9C325.9 593.9 325.4 596.3 325.4 597.4C325.4 598.4 325.6 600.1 326.1 601.1C326.6 602.1 328.5 603.9 329.1 604.8C329.7 605.7 330.9 607.3 330.7 607.8C330.5 608.3 328.7 608.9 327.6 608.7C326.5 608.5 323.8 606.8 322.4 606.5C321 606.2 318.4 606.5 317.2 606.5C315.9 606.4 313.8 606.3 312.7 606.1C311.6 605.9 308.8 605.5 308.9 604.8Z"/>
<path d="M332.1 592.9C332.4 591.6 336 589 337.3 587.7C338.6 586.4 340.8 584 341.8 583.2C342.7 582.4 344 581.6 344.1 581.9C344.2 582.2 342.5 584.5 342.5 585.4C342.5 586.4 343.5 588.4 344 589.2C344.5 589.9 346.6 590.7 346.4 591C346.2 591.4 343.3 591.6 342.5 591.8C341.7 592.1 340.6 592.5 340.6 593C340.6 593.4 341.5 594.7 342.5 595.1C343.5 595.5 347.6 595.6 347.9 595.9C348.2 596.2 345 596.8 344.7 597.4C344.5 598 345.4 599.6 346.2 600.3C347 601.1 349.7 602.7 350.7 603.3C351.7 604 353.6 604.8 353.8 605.2C354 605.6 353.2 606.3 352.2 606.5C351.2 606.6 347.7 606.2 346.2 606.1C344.7 606 342.1 606.3 341 605.7C339.9 605.1 338.8 602.9 338 601.8C337.2 600.7 335.8 598.5 335 597.4C334.3 596.2 331.8 594.2 332.1 592.9Z"/>
<path d="M376 582.1C376.5 581.4 379.2 579.5 380.4 578.4C381.6 577.3 383.8 574.8 384.9 573.9C386.1 573 388.1 571.4 389 571.3C389.9 571.1 391.6 572.2 391.8 572.7C391.9 573.3 390.1 574.6 390.1 575.4C390.2 576.1 391.6 577.6 392.4 578.4C393.2 579.2 395.2 580.6 396.1 581.4C397 582.1 399.3 583.7 399.2 584C399.1 584.3 396.5 583.7 395.4 583.7C394.2 583.7 392.3 583.9 390.9 584C389.5 584.1 386.4 584.4 384.9 584.4C383.4 584.5 380.8 584.5 379.7 584.4C378.6 584.3 377.2 584 376.7 583.7C376.2 583.4 375.5 582.8 376 582.1Z"/>
<path d="M395.4 573.9C395.7 572.9 398.8 569.8 399.8 568.7C400.8 567.5 402 565.9 402.8 565.3C403.6 564.7 404.9 564.1 405.8 564.1C406.7 564 409.9 564.9 409.7 565.2C409.5 565.6 404.9 566.1 404.3 566.5C403.7 567 404.2 568.2 405 568.7C405.9 569.2 409.9 569.8 410.4 570.2C410.9 570.5 409.6 571.3 408.8 571.4C408 571.4 405 570.5 404.3 570.6C403.6 570.7 403 571.5 403.6 572.1C404.2 572.7 407.3 574.9 408.8 575.4C410.3 575.9 413.2 576.1 414.7 576.1C416.3 576.2 419.1 575.5 420.7 575.8C422.3 576 425.2 577.6 426.7 578C428.2 578.4 431.4 578.4 432 578.7C432.6 579.1 431.9 580.5 431.1 580.7C430.4 580.8 427.9 580.2 426.7 579.9C425.5 579.6 423.3 578.7 422.2 578.4C421.1 578.2 419.3 578 418.5 578.1C417.7 578.1 415.9 578.4 416.2 578.8C416.5 579.3 419.5 580.6 420.7 581.4C421.9 582.1 425.1 583.7 425.3 584.4C425.5 585.1 423.4 586.4 422.2 586.6C421 586.8 417.8 586.2 416.2 585.9C414.6 585.7 411.7 585.3 410.3 584.8C408.9 584.3 407 582.9 405.8 582.2C404.6 581.4 402.4 580 401.3 579.2C400.2 578.4 398.4 576.9 397.6 576.2C396.8 575.5 395.1 574.9 395.4 573.9Z"/>
<path d="M397.6 585.8C398.3 585.2 400 584.3 401.3 584.3C402.6 584.3 405.9 585.4 407.3 585.8C408.7 586.2 410.6 586.9 411.8 587.3C413 587.7 415.2 588.5 416.2 588.8C417.2 589.2 419.1 589.6 419.4 590C419.7 590.4 419.1 591.3 418.5 591.5C417.9 591.6 415.8 591.3 414.7 591.1C413.6 591 410.5 590.1 410.3 590.4C410.1 590.7 412.6 592.7 413.3 593.3C413.9 593.9 415.3 594.5 414.9 594.9C414.5 595.2 411.6 595.4 410.3 595.6C409 595.8 406.2 596.4 405 596.3C403.9 596.2 402.2 595.4 401.3 594.9C400.4 594.3 399 592.7 398.3 591.9C397.6 591.1 396.2 589.7 396.1 588.9C396 588.1 396.9 586.4 397.6 585.8Z"/>
<path d="M377.5 600C377.5 599.4 379.6 597.4 380.4 596.3C381.2 595.2 382.6 592.8 383.4 591.8C384.2 590.8 385.7 589.3 386.6 589C387.4 588.8 389.3 589.5 389.5 589.9C389.8 590.4 388.5 591.7 388.6 592.5C388.8 593.4 390.1 595.4 390.9 596.3C391.7 597.2 394.9 598.8 394.8 599.3C394.7 599.9 391.4 600.4 390.1 600.4C388.8 600.5 386.2 599.7 384.9 599.7C383.6 599.7 381.4 600.4 380.4 600.4C379.4 600.5 377.5 600.6 377.5 600Z"/>
<path d="M463.6 498.5C464.1 497.6 466.9 496.1 468.1 495.2C469.3 494.2 471.4 492.2 472.5 491.5C473.7 490.7 476 489.2 476.4 489.4C476.8 489.6 475.4 491.9 475.5 492.9C475.6 494 476.5 496.1 477 497.4C477.5 498.7 478.6 501.4 479.3 502.6C479.9 503.8 481.6 505.6 482.2 506.4C482.9 507.1 484.3 507.9 483.9 508.3C483.5 508.8 480.5 509.6 479.3 509.8C478 510 475.9 510.1 474.8 509.8C473.7 509.6 472 508.6 471 507.9C470.1 507.3 468.2 505.7 467.3 505C466.4 504.2 464.8 502.8 464.3 502C463.8 501.1 463.1 499.4 463.6 498.5Z"/>
<path d="M444.9 508.6C445.2 508.1 448.3 506.5 449.4 505.6C450.5 504.7 452.3 502.8 453.2 501.9C454 501 455.2 499.5 456.1 498.9C457 498.3 458.9 497.3 459.9 497.3C460.8 497.2 463.1 498.1 463 498.5C462.9 499 459.9 499.8 459.1 500.5C458.3 501.1 457.1 502.4 456.9 503.4C456.7 504.4 457.3 506.8 457.6 507.9C457.9 509 459.4 511.1 459.3 511.7C459.2 512.3 457.5 512.6 456.9 512.4C456.3 512.2 455.4 510.6 454.6 510.2C453.8 509.8 451.9 509.5 450.9 509.4C449.9 509.4 448 509.9 447.2 509.8C446.4 509.7 444.7 509.2 444.9 508.6Z"/>
<path d="M447.6 521.8C447.8 521.1 451.1 519.7 452.4 518.8C453.7 517.9 456.3 515.8 457.6 514.7C458.9 513.6 461.1 511.2 462.1 510.6C463.1 510 465.2 509.5 465.2 509.9C465.2 510.4 462.6 512.8 462.1 513.9C461.6 515.1 461.3 517.1 461.4 518.4C461.5 519.7 462.4 522.4 462.8 523.6C463.3 524.8 464.7 526.8 464.5 527.4C464.3 528.1 462.2 528.4 461.4 528.2C460.5 528 459.3 526.4 458.4 526C457.5 525.6 455.6 525.5 454.6 525.2C453.6 524.9 451.9 524.2 450.9 523.7C450 523.3 447.4 522.4 447.6 521.8Z"/>
<path d="M443.8 535.2C444.2 534.7 448 533.9 449.4 533.3C450.9 532.8 453.2 531.7 454.6 531.1C456.1 530.5 459.2 528.7 460 528.7C460.8 528.7 460.8 530.3 460.6 531.1C460.4 531.9 458.8 533.5 458.4 534.8C457.9 536.1 457.6 540.4 457 540.9C456.4 541.5 454.8 539.1 453.9 538.6C453 538.1 451.2 537.4 450.2 537.1C449.2 536.9 447.3 537 446.4 536.8C445.6 536.5 443.4 535.7 443.8 535.2Z"/>
<path d="M465.8 529.2C466.2 528.7 468.8 528.5 469.6 528.9C470.4 529.2 471.1 530.9 471.8 531.8C472.5 532.8 473.8 535.2 474.8 536.3C475.8 537.4 478.4 539.3 479.3 540C480.1 540.8 481.1 541.3 480.9 541.6C480.7 541.9 478.6 542 477.8 542.4C476.9 542.8 475.8 544.3 474.8 544.6C473.8 544.8 471.5 544.4 470.3 544.2C469.1 544 467 543.3 465.8 543.1C464.6 542.9 462.1 542.9 461.4 542.7C460.7 542.5 460.4 542.6 460.6 541.5C460.8 540.5 462.3 535.5 462.8 534.8C463.3 534.1 463.7 535.5 464.3 536.3C464.9 537.1 466.6 540.1 467.3 540.8C468 541.5 469.5 542.1 469.6 541.5C469.7 540.9 468.5 537.5 468.1 536.3C467.7 535.1 466.9 533.5 466.6 532.6C466.3 531.6 465.4 529.7 465.8 529.2Z"/>
</g>
<g id="carves" fill="none" stroke="#fff" stroke-linecap="round" stroke-linejoin="round">
<path d="M255.6 620.1C256.4 620.3 258.8 620.7 260.5 621C262.2 621.4 264.8 622 265.7 622.2" stroke-width="0.9"/>
<path d="M234.5 616.5C235.1 617 236.8 618.6 238.1 619.5C239.5 620.5 241.8 621.7 242.6 622.1" stroke-width="1"/>
<path d="M400.9 585.7C402.3 586 406 586.9 408.8 587.6C411.6 588.3 416.2 589.6 417.7 590" stroke-width="1"/>
</g>
<g id="ridges" fill="none" stroke="#000" stroke-linecap="round" stroke-linejoin="round">
<path d="M182.4 605.3C183 605.8 184.9 607.2 186.1 608.3C187.3 609.4 188.6 610.9 189.8 612C191 613.1 192.6 614.5 193.2 615" stroke-width="1.2"/>
<path d="M182 610.5C182.6 610.9 184 612.2 185.4 613.1C186.7 614 189.1 615.3 189.8 615.7" stroke-width="1"/>
<path d="M198.8 599.8C199.8 600.3 202.8 601.6 204.7 602.7C206.7 603.7 208.6 605.2 210.7 606C212.8 606.9 216.3 607.6 217.4 607.9" stroke-width="1.3"/>
<path d="M212.2 615.7C213.1 616.2 215.8 617.6 217.4 618.3C219 619 221.1 619.7 221.9 620" stroke-width="1.1"/>
<path d="M177.9 621.7C178.6 621.9 181.3 622.6 182 622.8" stroke-width="0.9"/>
<path d="M184.2 630.5C184.5 630.6 185.8 631.1 186.1 631.2" stroke-width="1.2"/>
<path d="M193.6 619.7C194.7 620.2 197.9 621.8 200.3 623C202.6 624.1 206.5 625.9 207.7 626.5" stroke-width="1.9"/>
<path d="M195.8 625.2C196.7 625.7 199.3 627.3 201 628.2C202.8 629.1 205.4 630.2 206.2 630.6" stroke-width="1.8"/>
<path d="M233.6 597.7C234.6 598.2 237.5 599.1 239.6 600.5C241.7 601.9 245.2 605.2 246.3 606.1" stroke-width="1"/>
<path d="M233.6 608.3C234.5 608.6 237.4 609.6 238.9 609.8C240.4 610.1 242 609.8 242.6 609.8" stroke-width="1.2"/>
<path d="M253 588.6C253.7 589.4 255.1 592.4 256.8 593.4C258.4 594.5 260.7 594.5 262.7 594.9C264.8 595.3 268.1 595.8 269.2 596" stroke-width="1.1"/>
<path d="M258.3 597.5C259 597.7 261.3 598.2 262.7 598.5C264.1 598.8 266 599 266.6 599.1" stroke-width="1.5"/>
<path d="M253 598.6C253.7 599 255.1 600.2 256.8 600.9C258.4 601.6 261.9 602.5 262.9 602.8" stroke-width="1.1"/>
<path d="M233.6 621.4C234.1 621.6 235.6 622.4 236.6 622.9C237.7 623.3 239.4 623.9 240 624.1" stroke-width="1.3"/>
<path d="M250 607.7C251.2 608.1 254.5 609 256.8 609.8C259.1 610.7 262.7 612.4 263.8 613" stroke-width="1.1"/>
<path d="M252.3 610.6C252.7 610.7 254.1 611.2 254.9 611.5C255.7 611.7 256.8 612.1 257.1 612.2" stroke-width="1.5"/>
<path d="M259.7 616.5C260.5 616.8 262.7 617.4 264.2 617.9C265.7 618.4 268.1 619.4 268.8 619.7" stroke-width="1.2"/>
<path d="M258.3 619.1C258.9 619.3 260.7 619.8 262 620.3C263.2 620.7 265.2 621.5 265.9 621.8" stroke-width="1.3"/>
<path d="M274.7 600.5C275.5 600.9 278.1 602.2 279.9 603.1C281.7 604 284.5 605.3 285.5 605.7" stroke-width="1.1"/>
<path d="M276.9 606.1C277.4 606.3 278.9 606.8 279.9 607.2C280.8 607.6 282.1 608.2 282.5 608.3" stroke-width="1.3"/>
<path d="M255 590.9C256.1 591.6 259.4 593.8 261.7 594.7C264 595.6 267.6 596 268.8 596.3" stroke-width="1"/>
<path d="M258.7 597.3C259.3 597.4 261.2 598 262.5 598.3C263.7 598.5 265.7 598.8 266.3 598.9" stroke-width="1.4"/>
<path d="M255 599.9C255.6 600.2 257.5 601 258.7 601.5C260 602.1 262 602.8 262.6 603" stroke-width="1"/>
<path d="M255 608.2C255.9 608.7 258.6 609.9 260.2 610.7C261.9 611.5 264.1 612.7 264.8 613.1" stroke-width="1.1"/>
<path d="M255 612.2C255.2 612.3 256.2 612.6 256.5 612.7" stroke-width="1"/>
<path d="M276.6 604.4C277.1 604.7 278.6 605.8 279.6 606.5C280.6 607.1 282.2 608 282.7 608.2" stroke-width="1.3"/>
<path d="M289.3 593.2C290 593.8 292 595.7 293.8 596.9C295.5 598.2 297.5 599.4 299.7 600.6C302 601.9 306.1 603.9 307.3 604.5" stroke-width="1"/>
<path d="M290.8 599.2C291.5 599.6 293.8 601.4 295.3 602.1C296.8 602.9 299.1 603.5 299.9 603.8" stroke-width="1.3"/>
<path d="M305.7 605.1C306.1 605.4 307.3 606.2 308.1 606.6C308.9 607.1 310 607.6 310.3 607.8" stroke-width="1"/>
<path d="M309.4 610.3C310.3 610.9 312.5 613.2 314.7 613.9C316.8 614.6 320.9 614.4 322.1 614.5" stroke-width="1.5"/>
<path d="M309.4 616.3C309.9 616.5 311.2 616.9 312 617.2C312.9 617.5 314.3 618.1 314.8 618.2" stroke-width="1.3"/>
<path d="M286.3 613.3C286.7 613.9 287.8 615.7 288.6 616.7C289.3 617.7 290.5 619 290.9 619.4" stroke-width="0.9"/>
<path d="M293 617.8C293.5 618 295.1 618.8 296 619.3C297 619.8 298.3 620.6 298.8 620.9" stroke-width="1"/>
<path d="M309.7 610.4C310.4 611 312.2 613.1 314.2 613.8C316.2 614.4 320.4 614.4 321.6 614.5" stroke-width="1.5"/>
<path d="M309.7 616.6C310.1 616.7 311.5 617.2 312.3 617.5C313.1 617.8 314.2 618.2 314.5 618.4" stroke-width="1.3"/>
<path d="M327.2 589.5C327.9 590.2 330.3 592.1 331.3 593.6C332.4 595.2 332.8 597.2 333.6 598.8C334.3 600.5 335.5 602.6 335.9 603.3" stroke-width="1.4"/>
<path d="M332.1 601.8C332.5 602.2 333.6 603.4 334.5 604.2C335.3 605 336.6 606.3 337.1 606.8" stroke-width="1.3"/>
<path d="M347 584.7C347.8 585.4 350.6 587.9 352.2 589.2C353.8 590.4 355.2 591.1 356.7 592C358.2 592.9 360.5 594.1 361.3 594.5" stroke-width="1.3"/>
<path d="M351.5 593.6C352 593.8 353.7 594.5 354.8 595C356 595.4 357.7 596.1 358.3 596.3" stroke-width="1.3"/>
<path d="M347.7 595.9C348.7 596.5 351.7 598.5 353.7 599.6C355.7 600.7 358.8 601.8 359.8 602.3" stroke-width="1.1"/>
<path d="M391.6 572.8C392.4 573.3 394.5 574.8 396.1 576.1C397.7 577.4 399.7 579.7 401.3 580.6C403 581.6 405.2 581.6 405.9 581.8" stroke-width="1.2"/>
<path d="M391.3 577.6C391.9 578.1 393.9 579.6 395.4 580.6C396.8 581.6 399.1 583 399.8 583.4" stroke-width="1"/>
<path d="M405.8 564.4C406.8 564.8 409.8 566 411.8 566.8C413.7 567.7 415.3 568.9 417.7 569.4C420.1 569.9 424.7 569.8 426.1 569.9" stroke-width="1.4"/>
<path d="M420.7 579.1C421.6 579.4 424.2 580.3 425.9 580.8C427.7 581.3 430.4 581.9 431.3 582.1" stroke-width="1.2"/>
<path d="M389.4 589.9C389.9 590.1 391.4 590.6 392.4 591C393.4 591.5 394.9 592.3 395.4 592.5" stroke-width="1"/>
<path d="M395.4 597.4C395.8 597.5 397.1 598 398 598.1C398.8 598.3 400.1 598.3 400.6 598.4" stroke-width="1.1"/>
<path d="M477 490C477.6 490.6 479.7 492.5 480.7 493.7C481.7 494.9 481.8 496.2 483 497.4C484.1 498.6 486.8 500.3 487.6 500.9" stroke-width="1.6"/>
<path d="M483.7 503C484.2 503.3 485.7 504.3 486.7 504.9C487.7 505.5 489.3 506.2 489.8 506.4" stroke-width="2.2"/>
<path d="M459.9 500C460.1 500.4 460.8 501.5 461.2 502.3C461.6 503 462.1 504.2 462.2 504.6" stroke-width="1.6"/>
<path d="M465.1 510.1C465.7 510.6 467.7 512.1 468.8 513.2C469.9 514.3 470.7 515.6 471.8 516.9C472.9 518.3 474 519.8 475.5 521.4C477 523 478.2 524.6 480.7 526.6C483.3 528.7 488.9 532.6 490.6 533.8" stroke-width="1.5"/>
<path d="M465.8 513.9C466.1 514.8 466.6 517.6 467.3 519.2C468.1 520.8 468.8 522.3 470.3 523.6C471.8 525 475.4 526.5 476.4 527.1" stroke-width="2"/>
<path d="M463.6 527.4C464.6 527.6 466.7 528.8 469.6 528.9C472.4 528.9 479 528 480.9 527.8" stroke-width="1.5"/>
<path d="M471.8 529.6C472.5 530.2 474.8 532.3 476.3 533.3C477.8 534.3 479.1 535 480.7 535.6C482.4 536.1 485.2 536.6 486.1 536.8" stroke-width="1.5"/>
<path d="M477.8 534.8C478.2 535.1 479.5 536.1 480.4 536.7C481.3 537.3 482.7 538.3 483.1 538.6" stroke-width="1.6"/>
</g>
<g id="labels">
<text class="lb" x="283.9" y="243" font-size="16">北地郡</text>
<text class="lb" x="231" y="419" font-size="16">渭桥</text>
<text class="lb" x="825.9" y="168" font-size="16">河东郡</text>
<text class="lb" x="726.8" y="305" font-size="16">河北郡</text>
<text class="lb" x="819.1" y="559" font-size="16">卢氏</text>
<text class="lb" x="567" y="602" font-size="16">上洛郡</text>
<text class="lb" x="173.8 173.8" y="442 459.1" font-size="16">槐里</text>
<text class="lb" x="212.6 212.6 212.6" y="469.8 486.9 504" font-size="16">逍遥园</text>
<text class="lb" x="269.7 269.7" y="470.2 487.3" font-size="16">石桥</text>
<text class="lb" x="305.7 305.7" y="484.2 501.8" font-size="16">灞上</text>
<text class="lb" x="369.2 369.2" y="479.4 496.8" font-size="16">青泥</text>
<text class="lb" x="432.8 432.8" y="518.4 535.5" font-size="16">峣关</text>
<text class="lb" x="488 488" y="406.8 423.9" font-size="16">郑县</text>
<text class="lb" x="588.7 588.7" y="385.2 402" font-size="16">定城</text>
<text class="lb" x="629.2 629.2" y="392 409.1" font-size="16">潼关</text>
<text class="lb" x="669.2 669.2" y="390.8 407.9" font-size="16">阌乡</text>
<text class="lb" x="793.5 793.5 793.5" y="371.9 388.9 405.9" font-size="16">弘农郡</text>
<text class="lb" x="867 867" y="309.2 326.2" font-size="16">陕城</text>
<text class="lb" x="606 606" y="259 276" font-size="16">香城</text>
<text class="lb" x="640.5 640.5" y="285.4 302.5" font-size="16">蒲坂</text>
<text class="lbb" x="245 245" y="481.2 498.8" font-size="16">长安</text>
</g>
<g id="rivernames">
<text class="rv" x="182" y="333.3" font-size="16">泾</text>
<text class="rv" x="236.9" y="386.4" font-size="14">水</text>
<text class="rv" x="381.6" y="395" font-size="16" transform="rotate(6 381.6 389.2)">渭</text>
<text class="rv" x="464" y="378.1" font-size="15" transform="rotate(-8 464 372.6)">水</text>
<text class="rv" x="322.3" y="458.3" font-size="16.5" transform="rotate(3 322.3 452.3)">灞</text>
<text class="rv" x="336.8" y="481.7" font-size="15" transform="rotate(8 336.8 476.2)">水</text>
<text class="rv" x="772.2" y="335.2" font-size="17" transform="rotate(4 772.2 329)">黄</text>
<text class="rv" x="821.6" y="307.1" font-size="17" transform="rotate(5 821.6 300.9)">河</text>
<text class="rv" x="213.8" y="597" font-size="17" transform="rotate(10 213.8 590.8)">秦</text>
<text class="rv" x="301.4" y="591.1" font-size="16" transform="rotate(22 301.4 585.3)">岭</text>
<text class="rv" x="428.2" y="613.3" font-size="16.2" letter-spacing="0.3" style="font-weight:700;stroke-width:0.1px">蓝田谷</text>
</g>
<g id="boxtext">
<text class="emp" x="0.4" y="5.3" font-size="14.6" transform="translate(284 302.4) scale(1.36 1)" letter-spacing="1">后秦帝国</text>
<text class="emp" x="0.4" y="5.3" font-size="14.6" transform="translate(827.7 475) scale(1.36 1)" letter-spacing="1">晋帝国</text>
<text class="co" x="744.6" y="259.2" font-size="15" letter-spacing="2.45">后秦大败晋军于此</text>
</g>
<g id="tagtext">
<text class="wl" x="471.2 471.2 471.2 471.2 471.2 471.2 471.2" y="155.6 174.4 191.2 208.8 226.6 244 261.6" font-size="17.5">晋<tspan font-size="26">·</tspan>王镇恶舰队</text>
<text class="wl" x="736 736 736 736 736" y="427.4 445.5 463.2 480.2 497.6" font-size="17">晋<tspan font-size="26">·</tspan>刘裕军</text>
<text class="wl" x="551.7 568.3 584.5 601.4 618 634.4" y="561 562 561 561 561 561" font-size="17">晋<tspan font-size="26">·</tspan>沈田子军</text>
</g>
<g id="title">
<text class="tt" x="901.5 901.5 901.5 901.5 901.5 901.5 901.5 901.5 901.5 901.5 901.5 901.5 901.5 901.5 901.5 901.5" y="213.1 235.2 256.9 283.2 301.7 323.3 346.8 369.2 391.3 414 453.2 476.8 499.4 521.4 543.4 565" font-size="21.5">五世纪<tspan font-size="34">·</tspan>四一七年八月后秦亡国之战</text>
</g>
</g>
</svg>
</body>
</html>
